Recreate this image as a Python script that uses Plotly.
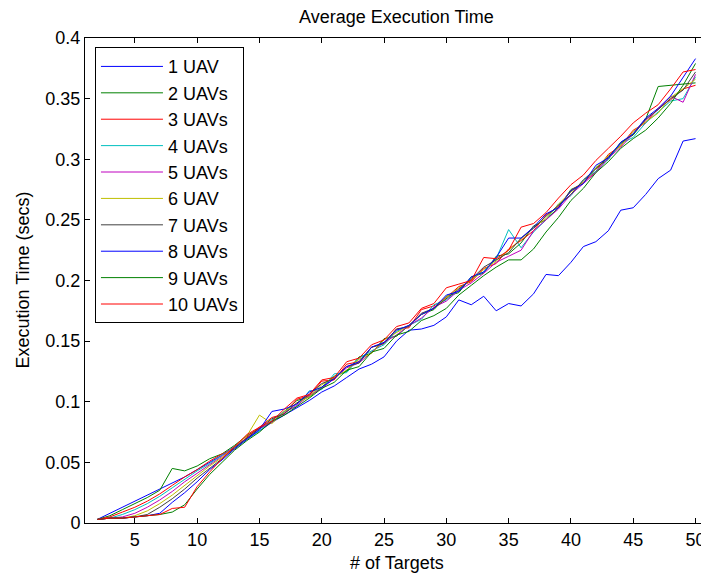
import plotly.graph_objects as go

targets = list(range(2, 51))

uav1 = [0.003, 0.008, 0.013, 0.018, 0.023, 0.028, 0.033, 0.038, 0.044, 0.050, 0.056,
        0.063, 0.070, 0.076, 0.083, 0.089, 0.095, 0.101, 0.108, 0.113, 0.120, 0.127, 0.131, 0.137,
        0.150, 0.159, 0.160, 0.163, 0.170, 0.184, 0.180, 0.187, 0.175, 0.181, 0.179, 0.189, 0.205,
        0.204, 0.215, 0.228, 0.232, 0.241, 0.258, 0.260, 0.271, 0.284, 0.291, 0.315, 0.317]
uav2 = [0.003, 0.006, 0.011, 0.016, 0.021, 0.027, 0.045, 0.043, 0.047, 0.053, 0.057,
        0.064, 0.072, 0.078, 0.083, 0.092, 0.101, 0.104, 0.112, 0.121, 0.125, 0.137, 0.140, 0.152,
        0.154, 0.163, 0.172, 0.176, 0.187, 0.190, 0.203, 0.206, 0.220, 0.222, 0.231, 0.245, 0.250,
        0.260, 0.275, 0.280, 0.293, 0.300, 0.314, 0.320, 0.333, 0.360, 0.361, 0.362, 0.363]
uav3 = [0.003, 0.005, 0.009, 0.013, 0.018, 0.024, 0.031, 0.038, 0.044, 0.051, 0.057,
        0.061, 0.071, 0.079, 0.087, 0.090, 0.102, 0.105, 0.117, 0.118, 0.131, 0.133, 0.145, 0.148,
        0.160, 0.161, 0.176, 0.179, 0.186, 0.195, 0.199, 0.210, 0.214, 0.226, 0.233, 0.241, 0.254,
        0.261, 0.274, 0.281, 0.290, 0.304, 0.311, 0.324, 0.330, 0.342, 0.349, 0.358, 0.361]
uav4 = [0.003, 0.004, 0.007, 0.011, 0.016, 0.022, 0.029, 0.036, 0.043, 0.049, 0.056,
        0.062, 0.069, 0.076, 0.085, 0.092, 0.096, 0.109, 0.110, 0.123, 0.124, 0.136, 0.142, 0.147,
        0.158, 0.163, 0.168, 0.180, 0.184, 0.192, 0.202, 0.207, 0.218, 0.242, 0.227, 0.240, 0.250,
        0.263, 0.270, 0.283, 0.290, 0.300, 0.313, 0.318, 0.330, 0.339, 0.348, 0.350, 0.368]
uav5 = [0.003, 0.004, 0.005, 0.008, 0.013, 0.019, 0.026, 0.034, 0.041, 0.048, 0.055,
        0.063, 0.070, 0.078, 0.083, 0.091, 0.097, 0.105, 0.111, 0.119, 0.128, 0.132, 0.141, 0.149,
        0.155, 0.163, 0.169, 0.178, 0.183, 0.192, 0.198, 0.206, 0.215, 0.220, 0.225, 0.241, 0.250,
        0.259, 0.271, 0.280, 0.289, 0.301, 0.310, 0.321, 0.332, 0.341, 0.352, 0.347, 0.370]
uav6 = [0.003, 0.004, 0.004, 0.006, 0.010, 0.016, 0.023, 0.031, 0.039, 0.047, 0.054,
        0.063, 0.072, 0.089, 0.082, 0.092, 0.099, 0.104, 0.114, 0.120, 0.126, 0.135, 0.140, 0.151,
        0.157, 0.163, 0.172, 0.177, 0.186, 0.194, 0.200, 0.209, 0.216, 0.225, 0.234, 0.244, 0.251,
        0.263, 0.273, 0.281, 0.293, 0.303, 0.311, 0.323, 0.331, 0.338, 0.351, 0.358, 0.366]
uav7 = [0.003, 0.004, 0.004, 0.005, 0.007, 0.013, 0.020, 0.028, 0.037, 0.045, 0.053,
        0.062, 0.070, 0.078, 0.086, 0.090, 0.099, 0.106, 0.115, 0.119, 0.129, 0.132, 0.145, 0.148,
        0.160, 0.162, 0.173, 0.177, 0.185, 0.193, 0.201, 0.211, 0.217, 0.223, 0.235, 0.243, 0.253,
        0.262, 0.271, 0.283, 0.292, 0.302, 0.313, 0.321, 0.333, 0.341, 0.350, 0.357, 0.372]
uav8 = [0.003, 0.004, 0.004, 0.005, 0.006, 0.008, 0.017, 0.025, 0.034, 0.044, 0.052,
        0.061, 0.069, 0.077, 0.092, 0.094, 0.098, 0.108, 0.112, 0.119, 0.129, 0.133, 0.145, 0.149,
        0.159, 0.163, 0.172, 0.177, 0.188, 0.191, 0.203, 0.207, 0.219, 0.235, 0.235, 0.244, 0.255,
        0.260, 0.274, 0.280, 0.295, 0.301, 0.314, 0.321, 0.334, 0.342, 0.352, 0.368, 0.383]
uav9 = [0.003, 0.004, 0.004, 0.005, 0.006, 0.007, 0.009, 0.015, 0.028, 0.040, 0.050,
        0.060, 0.068, 0.075, 0.084, 0.089, 0.096, 0.103, 0.111, 0.116, 0.126, 0.129, 0.141, 0.144,
        0.155, 0.158, 0.167, 0.171, 0.177, 0.188, 0.196, 0.204, 0.211, 0.217, 0.217, 0.226, 0.240,
        0.252, 0.266, 0.276, 0.289, 0.298, 0.309, 0.317, 0.324, 0.334, 0.346, 0.361, 0.379]
uav10 = [0.003, 0.004, 0.004, 0.005, 0.006, 0.007, 0.012, 0.013, 0.030, 0.042, 0.053,
         0.063, 0.073, 0.079, 0.084, 0.094, 0.103, 0.106, 0.118, 0.120, 0.133, 0.136, 0.147, 0.151,
         0.162, 0.165, 0.177, 0.181, 0.194, 0.197, 0.200, 0.219, 0.218, 0.225, 0.244, 0.247, 0.256,
         0.268, 0.279, 0.287, 0.299, 0.309, 0.319, 0.330, 0.338, 0.345, 0.358, 0.372, 0.374]

names = ["1 UAV", "2 UAVs", "3 UAVs", "4 UAVs", "5 UAVs", "6 UAV", "7 UAVs", "8 UAVs", "9 UAVs", "10 UAVs"]
series = [uav1, uav2, uav3, uav4, uav5, uav6, uav7, uav8, uav9, uav10]
colors = ["#0000ff", "#008000", "#ff0000", "#00bfbf", "#bf00bf", "#bfbf00", "#404040", "#0000ff", "#008000", "#ff0000"]

x_ticks = [5, 10, 15, 20, 25, 30, 35, 40, 45, 50]
y_ticks = [0, 0.05, 0.1, 0.15, 0.2, 0.25, 0.3, 0.35, 0.4]
y_tick_text = ["0", "0.05", "0.1", "0.15", "0.2", "0.25", "0.3", "0.35", "0.4"]

FONT = "Arial, Liberation Sans, sans-serif"
FS = 18

fig = go.Figure()
for name, vals, col in zip(names, series, colors):
    fig.add_trace(go.Scatter(x=targets, y=vals, mode="lines", name=name,
                             line=dict(color=col, width=1)))

# page body has an 8px default margin; figure is sized so the visible page is 709x575
fig.update_layout(
    width=701, height=567,
    margin=dict(l=77, r=1, t=30, b=52),
    paper_bgcolor="white", plot_bgcolor="white",
    font=dict(family=FONT, size=FS, color="black"),
    showlegend=True,
    legend=dict(x=0.016, y=0.981, xanchor="left", yanchor="top",
                bordercolor="black", borderwidth=1, bgcolor="white",
                font=dict(family=FONT, size=FS, color="black"),
                itemwidth=62, tracegroupgap=0),
    xaxis=dict(range=[1, 51], tickvals=x_ticks, ticks="inside", ticklen=5,
               tickcolor="black", showline=True, linecolor="black", linewidth=1,
               mirror="ticks", showgrid=False, zeroline=False,
               tickfont=dict(family=FONT, size=FS)),
    yaxis=dict(range=[0, 0.4], tickvals=y_ticks, ticktext=y_tick_text, ticks="inside",
               ticklen=5, tickcolor="black", showline=True, linecolor="black", linewidth=1,
               mirror="ticks", showgrid=False, zeroline=False,
               tickfont=dict(family=FONT, size=FS)),
    annotations=[
        dict(text="Average Execution Time", xref="paper", yref="paper", x=0.5, y=1,
             yshift=9, xanchor="center", yanchor="bottom", showarrow=False,
             font=dict(family=FONT, size=FS)),
        dict(text="# of Targets", xref="paper", yref="paper", x=0.5, y=0,
             yshift=-28, xanchor="center", yanchor="top", showarrow=False,
             font=dict(family=FONT, size=FS)),
        dict(text="Execution Time (secs)", xref="paper", yref="paper", x=0, y=0.5,
             xshift=-63, xanchor="center", yanchor="middle", textangle=-90, showarrow=False,
             font=dict(family=FONT, size=FS)),
    ],
)

fig.write_html("out.html")
